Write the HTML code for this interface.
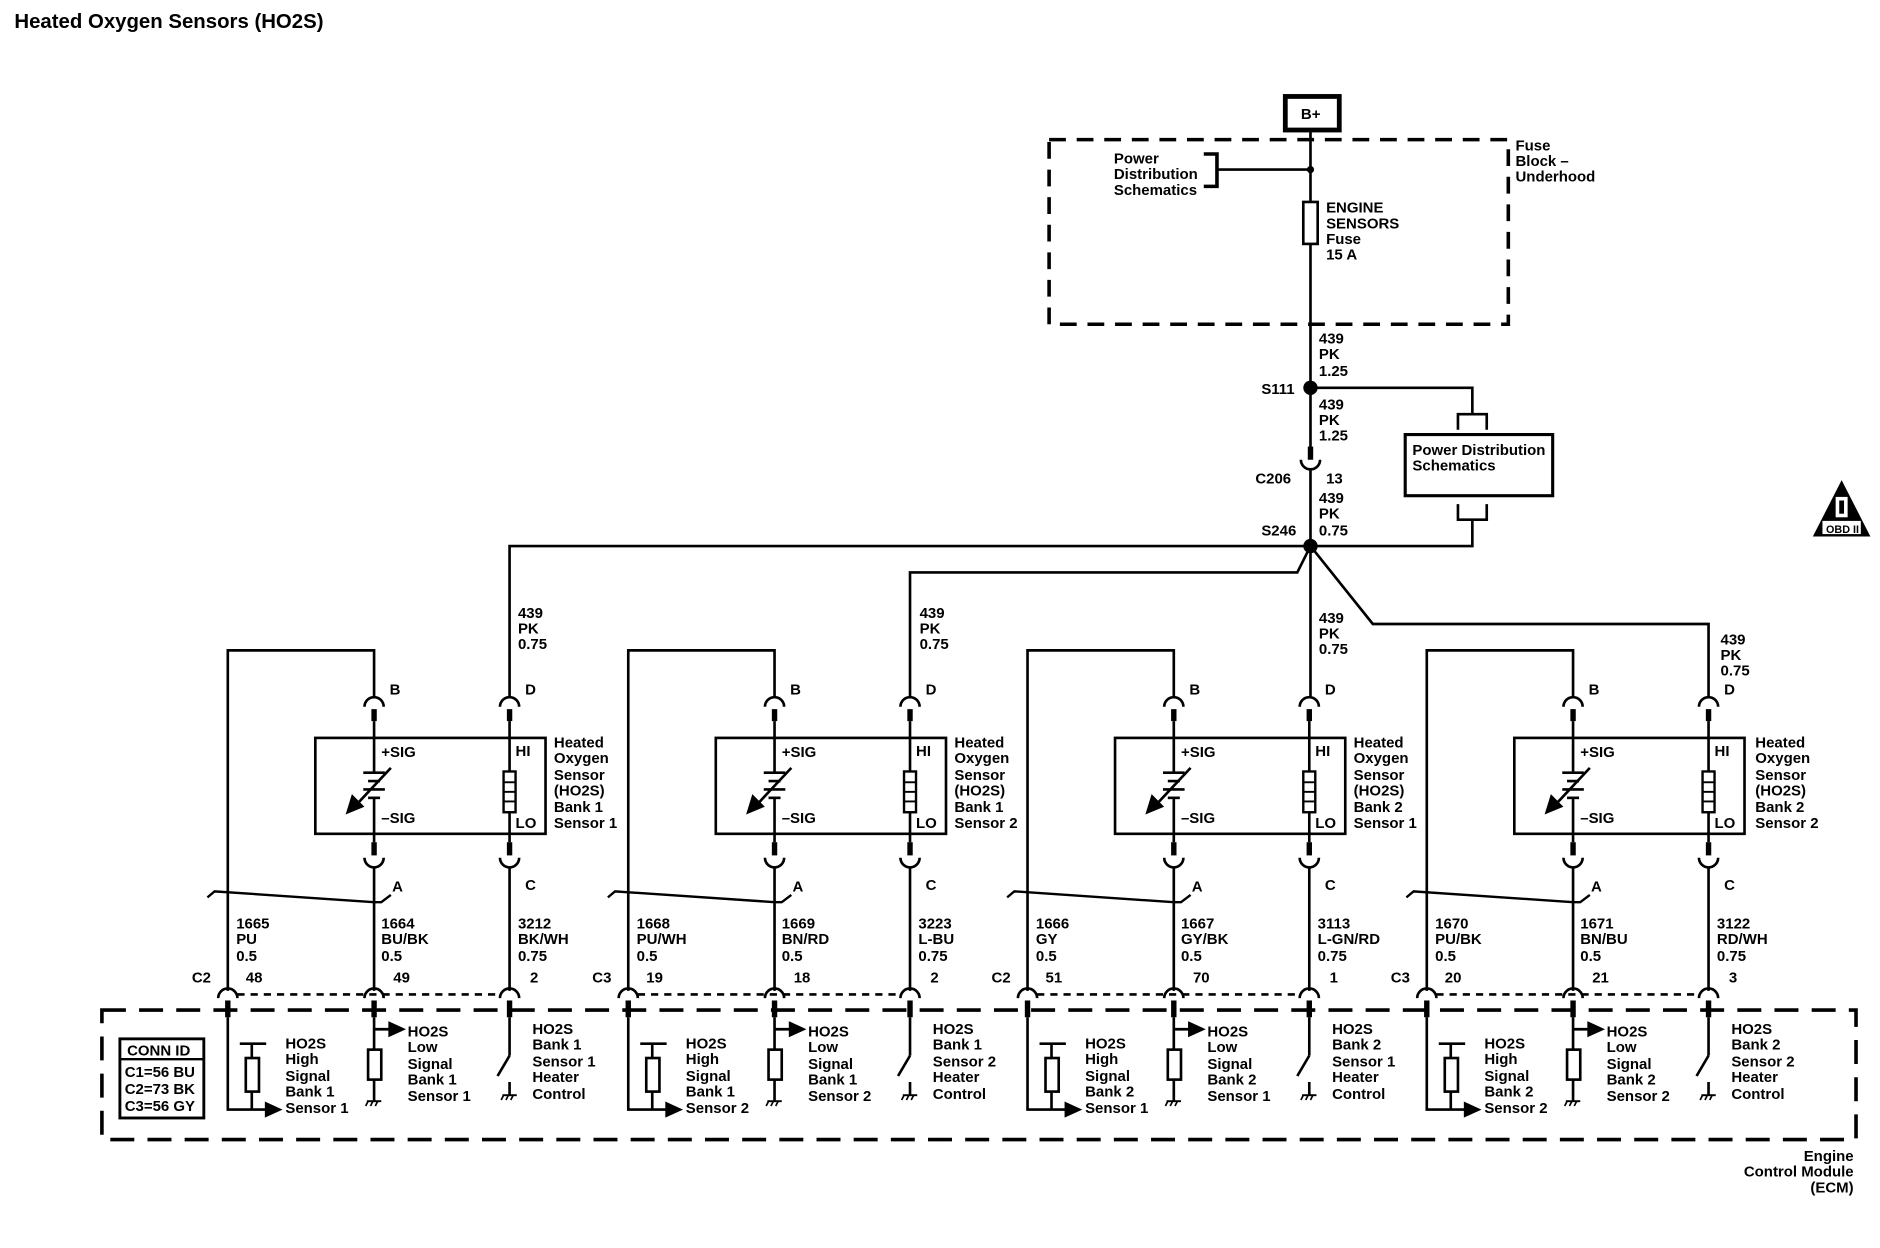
<!DOCTYPE html>
<html><head><meta charset="utf-8"><style>
html,body{margin:0;padding:0;background:#fff}
svg{display:block}
text{font-family:"Liberation Sans",Arial,sans-serif;font-size:12.5px;fill:#000;font-weight:bold}
</style></head><body>
<svg width="1880" height="1248" viewBox="0 0 1568 1040" xmlns="http://www.w3.org/2000/svg">
<defs>
<g id="m" fill="none" stroke="#000" stroke-width="2.2">
  <polyline points="190,826 190,542 312,542 312,582"/>
  <path d="M304,589 A8,8 0 0 1 320,589"/>
  <line x1="312" y1="591" x2="312" y2="601" stroke-width="4.5"/>
  <line x1="312" y1="601" x2="312" y2="615"/>
  <path d="M417,589 A8,8 0 0 1 433,589"/>
  <line x1="425" y1="591" x2="425" y2="601" stroke-width="4.5"/>
  <line x1="425" y1="601" x2="425" y2="615"/>
  <rect x="263" y="615" width="192" height="80"/>
  <line x1="312" y1="615" x2="312" y2="643"/>
  <line x1="303" y1="644" x2="321" y2="644"/>
  <line x1="307" y1="651" x2="317" y2="651"/>
  <line x1="303" y1="658" x2="321" y2="658"/>
  <line x1="307" y1="665" x2="317" y2="665"/>
  <line x1="312" y1="665" x2="312" y2="695"/>
  <line x1="326" y1="640" x2="297" y2="671"/>
  <polygon points="290,677 294,664 302,672" fill="#000"/>
  <line x1="425" y1="615" x2="425" y2="643"/>
  <rect x="420" y="643" width="10" height="34" stroke-width="2"/>
  <line x1="420" y1="652" x2="430" y2="652" stroke-width="1.6"/>
  <line x1="420" y1="660" x2="430" y2="660" stroke-width="1.6"/>
  <line x1="420" y1="668" x2="430" y2="668" stroke-width="1.6"/>
  <line x1="425" y1="677" x2="425" y2="695"/>
  <line x1="312" y1="695" x2="312" y2="702"/>
  <line x1="312" y1="702" x2="312" y2="713" stroke-width="4.5"/>
  <path d="M304,715 A8,8 0 0 0 320,715"/>
  <line x1="312" y1="723" x2="312" y2="826"/>
  <line x1="425" y1="695" x2="425" y2="702"/>
  <line x1="425" y1="702" x2="425" y2="713" stroke-width="4.5"/>
  <path d="M417,715 A8,8 0 0 0 433,715"/>
  <line x1="425" y1="723" x2="425" y2="826"/>
  <polyline points="173,748 179,743 312,752 318,752 326,746" stroke-width="2"/>
  <path d="M182,832 A8,8 0 0 1 198,832"/>
  <path d="M304,832 A8,8 0 0 1 320,832"/>
  <path d="M417,832 A8,8 0 0 1 433,832"/>
  <line x1="198" y1="829" x2="417" y2="829" stroke-dasharray="6,5"/>
  <line x1="190" y1="834" x2="190" y2="848" stroke-width="4.5"/>
  <line x1="312" y1="834" x2="312" y2="848" stroke-width="4.5"/>
  <line x1="425" y1="834" x2="425" y2="848" stroke-width="4.5"/>
  <polyline points="190,848 190,925 224,925"/>
  <polygon points="222,920 233,925 222,930" fill="#000"/>
  <line x1="200" y1="870" x2="222" y2="870"/>
  <line x1="210" y1="870" x2="210" y2="882"/>
  <rect x="205" y="882" width="11" height="28"/>
  <line x1="210" y1="910" x2="210" y2="925"/>
  <line x1="312" y1="848" x2="312" y2="875"/>
  <line x1="312" y1="858" x2="327" y2="858"/>
  <polygon points="325,853 336,858 325,863" fill="#000"/>
  <rect x="307" y="875" width="11" height="25"/>
  <line x1="312" y1="900" x2="312" y2="918"/>
  <line x1="306" y1="918" x2="318" y2="918" stroke-width="1.6"/>
  <path d="M307,918 l-2,4 M311,918 l-2,4 M315,918 l-2,4" stroke-width="1.4"/>
  <line x1="425" y1="848" x2="425" y2="880"/>
  <line x1="425" y1="880" x2="415" y2="897"/>
  <line x1="425" y1="902" x2="425" y2="913"/>
  <line x1="419" y1="913" x2="431" y2="913" stroke-width="1.6"/>
  <path d="M420,913 l-2,4 M424,913 l-2,4 M428,913 l-2,4" stroke-width="1.4"/>
</g>
</defs>

<text x="12" y="23" style="font-size:17px">Heated Oxygen Sensors (HO2S)</text>

<g fill="none" stroke="#000" stroke-width="2.2">
  <rect x="1072" y="80" width="45" height="28" stroke-width="4"/>
  <rect x="875" y="116" width="383" height="154" stroke-width="3" stroke-dasharray="14,9"/>
  <line x1="1093" y1="108" x2="1093" y2="168"/>
  <polyline points="1004,128 1015,128 1015,155 1004,155" stroke-width="3"/>
  <line x1="1015" y1="141" x2="1093" y2="141"/>
  <rect x="1087" y="168" width="12" height="35"/>
  <line x1="1093" y1="203" x2="1093" y2="376"/>
  <line x1="1093" y1="372" x2="1093" y2="383" stroke-width="4.5"/>
  <path d="M1085,383 A8,8 0 0 0 1101,383"/>
  <line x1="1093" y1="391" x2="1093" y2="582"/>
  <polyline points="1093,323 1228,323 1228,345"/>
  <polyline points="1216,358 1216,345 1240,345 1240,358"/>
  <rect x="1172" y="362" width="123" height="51" stroke-width="2.6"/>
  <polyline points="1216,420 1216,433 1240,433 1240,420"/>
  <polyline points="1228,433 1228,455 425,455 425,582"/>
  <polyline points="1093,455 1082,477 759,477 759,582"/>
  <polyline points="1093,455 1145,520 1425,520 1425,582"/>
  <rect x="85" y="842" width="1463" height="108" stroke-width="3" stroke-dasharray="20,11"/>
</g>
<circle cx="1093" cy="141" r="3"/>
<circle cx="1093" cy="323" r="6"/>
<circle cx="1093" cy="455" r="6"/>
<text x="1085" y="99">B+</text>
<g style="font-size:12px">
<text x="929" y="136">Power</text><text x="929" y="149">Distribution</text><text x="929" y="162">Schematics</text>
<text x="1106" y="177">ENGINE</text><text x="1106" y="190">SENSORS</text><text x="1106" y="203">Fuse</text><text x="1106" y="216">15 A</text>
<text x="1264" y="125">Fuse</text><text x="1264" y="138">Block –</text><text x="1264" y="151">Underhood</text>
<text x="1100" y="286">439</text><text x="1100" y="299">PK</text><text x="1100" y="313">1.25</text>
<text x="1052" y="328">S111</text>
<text x="1100" y="341">439</text><text x="1100" y="354">PK</text><text x="1100" y="367">1.25</text>
<text x="1178" y="379">Power Distribution</text><text x="1178" y="392">Schematics</text>
<text x="1047" y="403">C206</text><text x="1106" y="403">13</text>
<text x="1100" y="419">439</text><text x="1100" y="432">PK</text><text x="1100" y="446">0.75</text>
<text x="1052" y="446">S246</text>
<text x="432" y="515">439</text><text x="432" y="528">PK</text><text x="432" y="541">0.75</text>
<text x="767" y="515">439</text><text x="767" y="528">PK</text><text x="767" y="541">0.75</text>
<text x="1100" y="519">439</text><text x="1100" y="532">PK</text><text x="1100" y="545">0.75</text>
<text x="1435" y="537">439</text><text x="1435" y="550">PK</text><text x="1435" y="563">0.75</text>
</g>

<polygon points="1536,400 1512,447 1560,447" fill="#000"/>
<rect x="1531" y="414" width="10" height="17" fill="#fff"/>
<rect x="1534" y="417" width="4" height="11" fill="#000"/>
<rect x="1520" y="434" width="32" height="11" fill="#fff"/>
<text x="1523" y="444" style="font-size:9px">OBD II</text>

<rect x="100" y="866" width="70" height="66" fill="none" stroke="#000" stroke-width="2.4"/>
<line x1="100" y1="883" x2="170" y2="883" stroke="#000" stroke-width="2"/>
<g style="font-size:12px">
<text x="106" y="880">CONN ID</text>
<text x="104" y="898">C1=56 BU</text><text x="104" y="912">C2=73 BK</text><text x="104" y="926">C3=56 GY</text>
<text x="1546" y="968" text-anchor="end">Engine</text><text x="1546" y="981" text-anchor="end">Control Module</text><text x="1546" y="994" text-anchor="end">(ECM)</text>
</g>

<use href="#m"/>
<use href="#m" transform="translate(334,0)"/>
<use href="#m" transform="translate(667,0)"/>
<use href="#m" transform="translate(1000,0)"/>

<g style="font-size:12px">
<g>
<text x="325" y="579">B</text><text x="438" y="579">D</text>
<text x="318" y="631">+SIG</text><text x="318" y="686">–SIG</text><text x="430" y="630">HI</text><text x="430" y="690">LO</text>
<text x="462" y="623">Heated</text><text x="462" y="636">Oxygen</text><text x="462" y="650">Sensor</text><text x="462" y="663">(HO2S)</text><text x="462" y="677">Bank 1</text><text x="462" y="690">Sensor 1</text>
<text x="327" y="743">A</text><text x="438" y="742">C</text>
<text x="197" y="774">1665</text><text x="197" y="787">PU</text><text x="197" y="801">0.5</text>
<text x="318" y="774">1664</text><text x="318" y="787">BU/BK</text><text x="318" y="801">0.5</text>
<text x="432" y="774">3212</text><text x="432" y="787">BK/WH</text><text x="432" y="801">0.75</text>
<text x="160" y="819">C2</text><text x="205" y="819">48</text><text x="328" y="819">49</text><text x="442" y="819">2</text>
<text x="238" y="874">HO2S</text><text x="238" y="887">High</text><text x="238" y="901">Signal</text><text x="238" y="914">Bank 1</text><text x="238" y="928">Sensor 1</text>
<text x="340" y="864">HO2S</text><text x="340" y="877">Low</text><text x="340" y="891">Signal</text><text x="340" y="904">Bank 1</text><text x="340" y="918">Sensor 1</text>
<text x="444" y="862">HO2S</text><text x="444" y="875">Bank 1</text><text x="444" y="889">Sensor 1</text><text x="444" y="902">Heater</text><text x="444" y="916">Control</text>
</g>
<g transform="translate(334,0)">
<text x="325" y="579">B</text><text x="438" y="579">D</text>
<text x="318" y="631">+SIG</text><text x="318" y="686">–SIG</text><text x="430" y="630">HI</text><text x="430" y="690">LO</text>
<text x="462" y="623">Heated</text><text x="462" y="636">Oxygen</text><text x="462" y="650">Sensor</text><text x="462" y="663">(HO2S)</text><text x="462" y="677">Bank 1</text><text x="462" y="690">Sensor 2</text>
<text x="327" y="743">A</text><text x="438" y="742">C</text>
<text x="197" y="774">1668</text><text x="197" y="787">PU/WH</text><text x="197" y="801">0.5</text>
<text x="318" y="774">1669</text><text x="318" y="787">BN/RD</text><text x="318" y="801">0.5</text>
<text x="432" y="774">3223</text><text x="432" y="787">L-BU</text><text x="432" y="801">0.75</text>
<text x="160" y="819">C3</text><text x="205" y="819">19</text><text x="328" y="819">18</text><text x="442" y="819">2</text>
<text x="238" y="874">HO2S</text><text x="238" y="887">High</text><text x="238" y="901">Signal</text><text x="238" y="914">Bank 1</text><text x="238" y="928">Sensor 2</text>
<text x="340" y="864">HO2S</text><text x="340" y="877">Low</text><text x="340" y="891">Signal</text><text x="340" y="904">Bank 1</text><text x="340" y="918">Sensor 2</text>
<text x="444" y="862">HO2S</text><text x="444" y="875">Bank 1</text><text x="444" y="889">Sensor 2</text><text x="444" y="902">Heater</text><text x="444" y="916">Control</text>
</g>
<g transform="translate(667,0)">
<text x="325" y="579">B</text><text x="438" y="579">D</text>
<text x="318" y="631">+SIG</text><text x="318" y="686">–SIG</text><text x="430" y="630">HI</text><text x="430" y="690">LO</text>
<text x="462" y="623">Heated</text><text x="462" y="636">Oxygen</text><text x="462" y="650">Sensor</text><text x="462" y="663">(HO2S)</text><text x="462" y="677">Bank 2</text><text x="462" y="690">Sensor 1</text>
<text x="327" y="743">A</text><text x="438" y="742">C</text>
<text x="197" y="774">1666</text><text x="197" y="787">GY</text><text x="197" y="801">0.5</text>
<text x="318" y="774">1667</text><text x="318" y="787">GY/BK</text><text x="318" y="801">0.5</text>
<text x="432" y="774">3113</text><text x="432" y="787">L-GN/RD</text><text x="432" y="801">0.75</text>
<text x="160" y="819">C2</text><text x="205" y="819">51</text><text x="328" y="819">70</text><text x="442" y="819">1</text>
<text x="238" y="874">HO2S</text><text x="238" y="887">High</text><text x="238" y="901">Signal</text><text x="238" y="914">Bank 2</text><text x="238" y="928">Sensor 1</text>
<text x="340" y="864">HO2S</text><text x="340" y="877">Low</text><text x="340" y="891">Signal</text><text x="340" y="904">Bank 2</text><text x="340" y="918">Sensor 1</text>
<text x="444" y="862">HO2S</text><text x="444" y="875">Bank 2</text><text x="444" y="889">Sensor 1</text><text x="444" y="902">Heater</text><text x="444" y="916">Control</text>
</g>
<g transform="translate(1000,0)">
<text x="325" y="579">B</text><text x="438" y="579">D</text>
<text x="318" y="631">+SIG</text><text x="318" y="686">–SIG</text><text x="430" y="630">HI</text><text x="430" y="690">LO</text>
<text x="464" y="623">Heated</text><text x="464" y="636">Oxygen</text><text x="464" y="650">Sensor</text><text x="464" y="663">(HO2S)</text><text x="464" y="677">Bank 2</text><text x="464" y="690">Sensor 2</text>
<text x="327" y="743">A</text><text x="438" y="742">C</text>
<text x="197" y="774">1670</text><text x="197" y="787">PU/BK</text><text x="197" y="801">0.5</text>
<text x="318" y="774">1671</text><text x="318" y="787">BN/BU</text><text x="318" y="801">0.5</text>
<text x="432" y="774">3122</text><text x="432" y="787">RD/WH</text><text x="432" y="801">0.75</text>
<text x="160" y="819">C3</text><text x="205" y="819">20</text><text x="328" y="819">21</text><text x="442" y="819">3</text>
<text x="238" y="874">HO2S</text><text x="238" y="887">High</text><text x="238" y="901">Signal</text><text x="238" y="914">Bank 2</text><text x="238" y="928">Sensor 2</text>
<text x="340" y="864">HO2S</text><text x="340" y="877">Low</text><text x="340" y="891">Signal</text><text x="340" y="904">Bank 2</text><text x="340" y="918">Sensor 2</text>
<text x="444" y="862">HO2S</text><text x="444" y="875">Bank 2</text><text x="444" y="889">Sensor 2</text><text x="444" y="902">Heater</text><text x="444" y="916">Control</text>
</g>
</g>
</svg>
</body></html>
